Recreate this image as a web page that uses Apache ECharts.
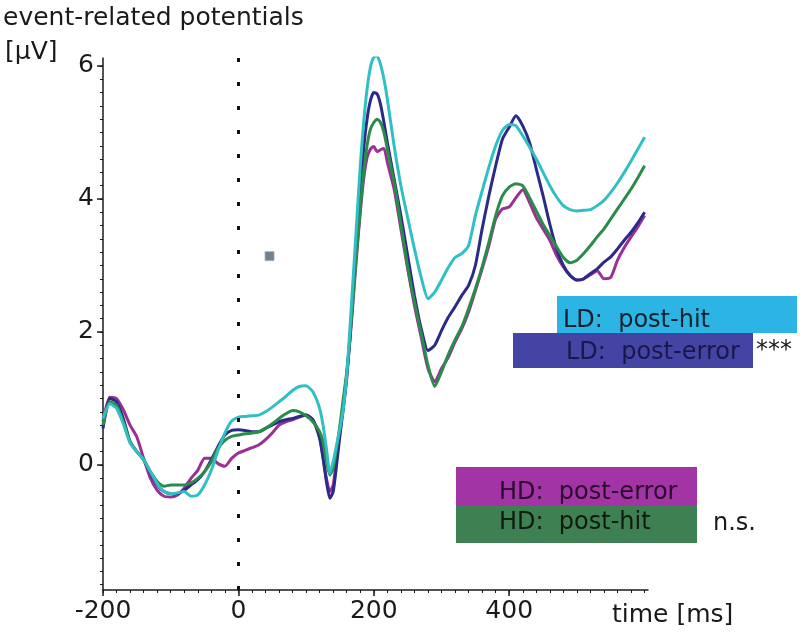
<!DOCTYPE html>
<html><head><meta charset="utf-8">
<script src="https://cdn.jsdelivr.net/npm/echarts@6/dist/echarts.min.js"></script>
<style>html,body{margin:0;padding:0;background:#fff}#c{width:803px;height:632px}</style>
</head><body><div id="c"></div>
<script>
const times = [-200,-190,-180,-170,-160,-150,-140,-130,-120,-110,-100,-90,-80,-70,-60,-50,-40,-30,-20,-10,0,10,20,30,40,50,60,70,80,90,100,110,120,125,130,135,140,145,150,155,160,165,170,175,180,185,190,195,200,205,210,215,220,230,240,250,260,270,280,290,300,310,320,330,340,350,360,370,380,390,400,410,420,430,440,450,460,470,480,490,500,510,520,530,540,550,560,570,580,590,600];

const ldPostHit = [0.70,0.92,0.85,0.62,0.33,0.20,0.08,-0.10,-0.28,-0.40,-0.43,-0.42,-0.40,-0.47,-0.45,-0.30,-0.08,0.22,0.48,0.66,0.72,0.73,0.74,0.75,0.80,0.87,0.95,1.03,1.12,1.18,1.19,1.10,0.85,0.60,0.25,-0.12,0.05,0.30,0.55,0.85,1.35,2.10,2.90,3.70,4.50,5.15,5.65,5.98,6.13,6.15,6.02,5.80,5.50,4.80,4.20,3.72,3.25,2.82,2.50,2.60,2.78,2.97,3.12,3.18,3.30,3.75,4.12,4.48,4.80,5.03,5.12,5.10,4.95,4.78,4.60,4.40,4.20,4.03,3.90,3.84,3.82,3.83,3.84,3.90,3.98,4.10,4.24,4.40,4.57,4.75,4.93];

const ldPostError = [0.55,1.00,0.95,0.70,0.35,0.20,0.08,-0.12,-0.30,-0.40,-0.43,-0.43,-0.38,-0.30,-0.22,-0.10,0.08,0.28,0.45,0.52,0.53,0.52,0.50,0.50,0.55,0.60,0.65,0.68,0.70,0.73,0.75,0.68,0.40,0.10,-0.25,-0.50,-0.40,0.00,0.45,0.85,1.30,1.95,2.70,3.45,4.15,4.75,5.20,5.48,5.60,5.58,5.42,5.15,4.85,4.30,3.75,3.15,2.55,2.05,1.72,1.80,2.02,2.22,2.38,2.55,2.70,3.00,3.55,4.05,4.50,4.90,5.08,5.25,5.10,4.85,4.45,4.05,3.62,3.25,3.00,2.85,2.78,2.80,2.88,2.95,3.05,3.13,3.25,3.38,3.50,3.64,3.80];

const hdPostError = [0.65,1.02,1.00,0.83,0.60,0.42,0.10,-0.20,-0.38,-0.47,-0.48,-0.45,-0.35,-0.20,-0.08,0.10,0.10,0.02,-0.02,0.10,0.18,0.22,0.26,0.30,0.38,0.48,0.60,0.65,0.68,0.72,0.75,0.68,0.42,0.12,-0.20,-0.40,-0.30,0.10,0.50,0.90,1.35,1.90,2.55,3.20,3.80,4.30,4.62,4.75,4.79,4.71,4.74,4.76,4.55,4.15,3.55,2.95,2.40,1.92,1.45,1.25,1.45,1.62,1.85,2.05,2.30,2.62,2.95,3.30,3.70,3.85,3.88,4.02,4.14,3.95,3.72,3.55,3.38,3.15,2.98,2.85,2.78,2.80,2.86,2.92,2.80,2.82,3.08,3.27,3.43,3.58,3.75];

const hdPostHit = [0.60,0.95,0.90,0.65,0.35,0.20,0.08,-0.10,-0.25,-0.32,-0.30,-0.30,-0.30,-0.27,-0.20,-0.10,0.05,0.25,0.37,0.43,0.45,0.47,0.48,0.50,0.55,0.62,0.70,0.77,0.82,0.80,0.74,0.65,0.50,0.35,0.05,-0.15,-0.05,0.25,0.60,1.00,1.40,1.95,2.60,3.25,3.85,4.40,4.80,5.05,5.15,5.20,5.15,5.00,4.75,4.25,3.62,2.98,2.45,1.98,1.50,1.18,1.40,1.66,1.88,2.08,2.35,2.65,2.98,3.35,3.75,4.05,4.18,4.23,4.20,4.02,3.82,3.62,3.45,3.28,3.12,3.04,3.08,3.18,3.30,3.43,3.55,3.70,3.85,4.00,4.15,4.32,4.50];

const markerPoint = [[46, 3.14]];

const xTickLabels = [-200, 0, 200, 400];
const yTickLabels = [0, 2, 4, 6];
const xMinorTicks = [-200,-180,-160,-140,-120,-100,-80,-60,-40,-20,0,20,40,60,80,100,120,140,160,180,200,220,240,260,280,300,320,340,360,380,400,420,440,460,480,500,520,540,560,580,600];
const yMinorTicks = [-1.8,-1.6,-1.4,-1.2,-1.0,-0.8,-0.6,-0.4,-0.2,0,0.2,0.4,0.6,0.8,1.0,1.2,1.4,1.6,1.8,2.0,2.2,2.4,2.6,2.8,3.0,3.2,3.4,3.6,3.8,4.0,4.2,4.4,4.6,4.8,5.0,5.2,5.4,5.6,5.8,6.0];

const FONT = 'DejaVu Sans';
const X_MIN = -200, X_MAX = 605, Y_MIN = -1.88, Y_MAX = 6.12;

function pairs(arr) { return times.map((t, i) => [t, arr[i]]); }

const chart = echarts.init(document.getElementById('c'), null, {renderer: 'canvas'});

const axisLineStyle = {color: '#1a1a1a', width: 1.5};
const TXT = '#1a1a1a';

chart.setOption({
  animation: false,
  backgroundColor: '#fff',
  grid: {left: 103, right: 155, top: 58, bottom: 42, containLabel: false},
  xAxis: [
    {type: 'value', min: X_MIN, max: X_MAX, position: 'bottom',
     axisLine: {show: true, onZero: false, lineStyle: axisLineStyle},
     axisTick: {show: true, customValues: xTickLabels, length: 6, lineStyle: {color: '#1a1a1a', width: 1.5}},
     axisLabel: {show: true, customValues: xTickLabels, margin: 9, fontFamily: FONT, fontSize: 25, color: TXT},
     splitLine: {show: false}},
    {type: 'value', min: X_MIN, max: X_MAX, position: 'bottom',
     axisLine: {show: false, onZero: false},
     axisTick: {show: true, customValues: xMinorTicks, length: 3, lineStyle: {color: '#1a1a1a', width: 1}},
     axisLabel: {show: false}, splitLine: {show: false}}
  ],
  yAxis: [
    {type: 'value', min: Y_MIN, max: Y_MAX, position: 'left',
     axisLine: {show: true, onZero: false, lineStyle: axisLineStyle},
     axisTick: {show: true, customValues: yTickLabels, length: 6, lineStyle: {color: '#1a1a1a', width: 1.5}},
     axisLabel: {show: true, customValues: yTickLabels, margin: 9, fontFamily: FONT, fontSize: 25, color: TXT},
     splitLine: {show: false}},
    {type: 'value', min: Y_MIN, max: Y_MAX, position: 'left',
     axisLine: {show: false, onZero: false},
     axisTick: {show: true, customValues: yMinorTicks, length: 3, lineStyle: {color: '#1a1a1a', width: 1}},
     axisLabel: {show: false}, splitLine: {show: false}}
  ],
  series: [
    {name: 'HD: post-error', type: 'line', data: pairs(hdPostError), showSymbol: false, smooth: 0.2,
     lineStyle: {color: '#9a2f94', width: 3}, itemStyle: {color: '#9a2f94'},
     markLine: {silent: true, symbol: 'none', label: {show: false},
       lineStyle: {color: '#111', type: [4, 20], width: 3}, data: [{xAxis: 0}]}},
    {name: 'LD: post-error', type: 'line', data: pairs(ldPostError), showSymbol: false, smooth: 0.2,
     lineStyle: {color: '#2c2a88', width: 3}, itemStyle: {color: '#2c2a88'}},
    {name: 'HD: post-hit', type: 'line', data: pairs(hdPostHit), showSymbol: false, smooth: 0.2,
     lineStyle: {color: '#2a8c4a', width: 3}, itemStyle: {color: '#2a8c4a'}},
    {name: 'LD: post-hit', type: 'line', data: pairs(ldPostHit), showSymbol: false, smooth: 0.2,
     lineStyle: {color: '#30c0c4', width: 3}, itemStyle: {color: '#30c0c4'}},
    {name: 'marker', type: 'scatter', data: markerPoint, symbol: 'rect', symbolSize: 9,
     itemStyle: {color: '#4f5f70', borderColor: '#a0b0c0', borderWidth: 1}}
  ],
  graphic: [
    {type: 'text', left: 3, top: 6, style: {text: 'event-related potentials', font: '25px "DejaVu Sans"', fill: TXT}},
    {type: 'text', left: 5, top: 40, style: {text: '[μV]', font: '25px "DejaVu Sans"', fill: TXT}},
    {type: 'text', left: 612, top: 603, style: {text: 'time [ms]', font: '25px "DejaVu Sans"', fill: TXT}},
    {type: 'rect', shape: {x: 557, y: 296, width: 240, height: 37}, style: {fill: '#2cb4e4'}, z: 10},
    {type: 'rect', shape: {x: 513, y: 333, width: 240, height: 35}, style: {fill: '#4444a4'}, z: 10},
    {type: 'rect', shape: {x: 456, y: 467, width: 241, height: 39}, style: {fill: '#a334a6'}, z: 10},
    {type: 'rect', shape: {x: 456, y: 506, width: 241, height: 37}, style: {fill: '#3e8052'}, z: 10},
    {type: 'text', z: 11, style: {x: 563, y: 321, text: 'LD:  post-hit', font: '24px "DejaVu Sans"', fill: '#14202a', verticalAlign: 'middle'}},
    {type: 'text', z: 11, style: {x: 566, y: 353, text: 'LD:  post-error', font: '24px "DejaVu Sans"', fill: '#18184a', verticalAlign: 'middle'}},
    {type: 'text', z: 11, style: {x: 756, y: 351, text: '***', font: '24px "DejaVu Sans"', fill: TXT, verticalAlign: 'middle'}},
    {type: 'text', z: 11, style: {x: 499, y: 493, text: 'HD:  post-error', font: '24px "DejaVu Sans"', fill: '#2a0a2a', verticalAlign: 'middle'}},
    {type: 'text', z: 11, style: {x: 499, y: 523, text: 'HD:  post-hit', font: '24px "DejaVu Sans"', fill: '#0e1a10', verticalAlign: 'middle'}},
    {type: 'text', z: 11, style: {x: 713, y: 524, text: 'n.s.', font: '24px "DejaVu Sans"', fill: TXT, verticalAlign: 'middle'}}
  ]
});
</script></body></html>
